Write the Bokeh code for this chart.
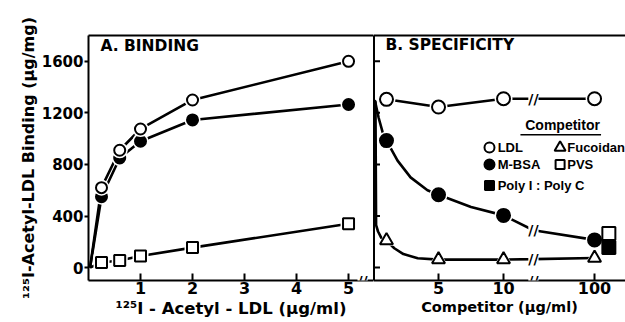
from bokeh.plotting import figure
from bokeh.models import Range1d, FixedTicker, LinearAxis, Label, ColumnDataSource
from bokeh.layouts import row
from bokeh.embed import file_html
from bokeh.resources import INLINE
from bokeh.transform import dodge

FONT = "DejaVu Sans"
LFONT = "Liberation Sans"

# ---------------- Panel A: Binding ----------------
a_x = [0.25, 0.6, 1, 2, 5]
a_ldl = [620, 910, 1075, 1300, 1600]
a_mbsa = [550, 850, 980, 1145, 1265]
a_pvs = [40, 55, 90, 155, 340]
a_ticks = [1, 2, 3, 4, 5]
y_ticks = [0, 400, 800, 1200, 1600]

# ---------------- Panel B: Specificity ----------------
b_x = [1, 5, 10, 100]
b_ldl = [1305, 1245, 1310, 1310]
b_mbsa = [985, 565, 405, 215]
b_fuc = [210, 62, 62, 75]
b_pvs_x = [100]
b_pvs = [265]
b_polyic_x = [100]
b_polyic = [155]
b_ticks = [5, 10, 100]
b_tick_labels = ["5", "10", "100"]

# axis break: values above 10 are drawn at position 17
BREAK_AT = 10
BREAK_POS = 17
BREAK_MARK = 12.3

# curves as drawn in the picture (position along broken axis, value)
b_mbsa_path_x = [0.1, 0.4, 0.7, 1, 1.85, 2.85, 4.15, 5, 7.5, 10, 12.3, 17]
b_mbsa_path_y = [1300, 1160, 1050, 985, 830, 700, 600, 565, 470, 405, 290, 215]
b_fuc_path_x = [0.15, 0.2, 0.35, 0.6, 1, 1.6, 2.3, 3.4, 5, 10, 12.3, 17]
b_fuc_path_y = [1290, 330, 280, 230, 210, 150, 105, 72, 62, 62, 66, 75]
b_ldl_path_x = [1, 5, 10, 17]
b_ldl_path_y = b_ldl


def xb(vals):
    return [v if v <= BREAK_AT else BREAK_POS for v in vals]


BLACK = "black"
yr = Range1d(-100, 1800)


def base_fig(width, xr, left, xlabel, xlabel_size):
    p = figure(width=width, height=322, x_range=xr, y_range=yr,
               output_backend="svg", toolbar_location=None,
               min_border_left=left, min_border_right=0,
               min_border_top=35, min_border_bottom=42,
               x_axis_label=xlabel)
    p.grid.visible = False
    p.outline_line_color = None
    p.background_fill_color = "white"
    p.border_fill_color = "white"
    xa = p.below[0]
    xa.axis_line_width = 2
    xa.axis_line_color = BLACK
    xa.major_tick_in = 7
    xa.major_tick_out = 0
    xa.major_tick_line_width = 2
    xa.major_tick_line_color = BLACK
    xa.minor_tick_line_color = None
    xa.major_label_text_font = FONT
    xa.major_label_text_font_style = "bold"
    xa.major_label_text_font_size = "16px"
    xa.major_label_text_color = BLACK
    xa.major_label_standoff = 1
    xa.axis_label_text_font = FONT
    xa.axis_label_text_font_style = "bold"
    xa.axis_label_text_font_size = xlabel_size
    xa.axis_label_text_color = BLACK
    xa.axis_label_standoff = 2
    top = LinearAxis(ticker=FixedTicker(ticks=[]), axis_line_width=2,
                     major_tick_line_color=None, minor_tick_line_color=None)
    p.add_layout(top, "above")
    return p, xa


def text(p, x, y, t, size, font=FONT, **kw):
    p.add_layout(Label(x=x, y=y, text=t, text_font=font, text_font_style="bold",
                       text_font_size=size, text_color=BLACK, **kw))


def points(p, x, y, marker, filled, size):
    p.scatter(x, y, marker=marker, size=size + 5,
              fill_color="white", line_color=None)
    p.scatter(x, y, marker=marker, size=size,
              fill_color=BLACK if filled else "white",
              line_color=BLACK, line_width=2)


def brk(p, x, y):
    p.add_layout(Label(x=x, y=y, text="//", text_align="center",
                       text_baseline="middle", text_font=FONT,
                       text_font_style="bold", text_font_size="14px",
                       background_fill_color="white", text_color=BLACK))


# ---------- Panel A figure ----------
pa, pa_x = base_fig(373, Range1d(0, 5.48), 88,
                    "\u00b9\u00b2\u2075I - Acetyl - LDL (\u00b5g/ml)", "16.5px")
pa_x.ticker = FixedTicker(ticks=a_ticks)
ya = pa.left[0]
ya.ticker = FixedTicker(ticks=y_ticks)
ya.axis_line_width = 2
ya.axis_line_color = BLACK
ya.major_tick_in = 0
ya.major_tick_out = 4
ya.major_tick_line_width = 2
ya.major_tick_line_color = BLACK
ya.minor_tick_line_color = None
ya.major_label_text_font = FONT
ya.major_label_text_font_style = "bold"
ya.major_label_text_font_size = "15px"
ya.major_label_text_color = BLACK
ya.major_label_standoff = 1
ya.axis_label = "\u00b9\u00b2\u2075I-Acetyl-LDL Binding (\u00b5g/mg)"
ya.axis_label_text_font = FONT
ya.axis_label_text_font_style = "bold"
ya.axis_label_text_font_size = "16px"
ya.axis_label_text_color = BLACK
ya.axis_label_standoff = 1

for ys in (a_ldl, a_mbsa, a_pvs):
    pa.line([0.03] + a_x, [0] + ys, line_color=BLACK, line_width=2.6)
points(pa, a_x, a_pvs, "square", False, 11)
points(pa, a_x, a_mbsa, "circle", True, 11)
points(pa, a_x, a_ldl, "circle", False, 11)
text(pa, 0.23, 1645, "A. BINDING", "15.5px")
brk(pa, 5.27, -100)

# ---------- Panel B figure ----------
pb, pb_x = base_fig(252, Range1d(0, 19.38), 0, "Competitor (\u00b5g/ml)", "14.5px")
pb_x.ticker = FixedTicker(ticks=xb(b_ticks))
pb_x.major_label_overrides = {pos: lab for pos, lab in zip(xb(b_ticks), b_tick_labels)}
yb = pb.left[0]
yb.ticker = FixedTicker(ticks=[])
yb.axis_line_width = 3
yb.axis_line_color = BLACK
yb.major_tick_line_color = None
yb.minor_tick_line_color = None
# inward ticks of the divider axis
pb.segment(x0=[0] * len(y_ticks), y0=y_ticks, x1=[0.5] * len(y_ticks), y1=y_ticks,
           line_color=BLACK, line_width=2)

pb.line(b_ldl_path_x, b_ldl_path_y, line_color=BLACK, line_width=2.6)
pb.line(b_mbsa_path_x, b_mbsa_path_y, line_color=BLACK, line_width=2.6)
pb.line(b_fuc_path_x, b_fuc_path_y, line_color=BLACK, line_width=2.6)

bx = xb(b_x)
points(pb, bx, b_fuc, "triangle", False, 13)
points(pb, bx, b_mbsa, "circle", True, 13)
points(pb, bx, b_ldl, "circle", False, 13)
pvs_src = ColumnDataSource(dict(x=xb(b_pvs_x), y=b_pvs))
pic_src = ColumnDataSource(dict(x=xb(b_polyic_x), y=b_polyic))
pb.scatter(x=dodge("x", 1.1, range=pb.x_range), y="y", source=pic_src,
           marker="square", size=13, fill_color=BLACK, line_color=BLACK, line_width=2)
pb.scatter(x=dodge("x", 1.1, range=pb.x_range), y="y", source=pvs_src,
           marker="square", size=13, fill_color="white", line_color=BLACK, line_width=2)

for yv in (-100, 1310, 290, 66):
    brk(pb, BREAK_MARK, yv)

text(pb, 0.92, 1655, "B. SPECIFICITY", "15.5px")

# legend (hand-built, in panel B data space)
LX1, LT1, LX2, LT2 = 8.92, 9.55, 14.35, 14.9
R1, R2, R3 = 931, 799, 636
text(pb, 14.54, 1047, "Competitor", "14px", font=LFONT, text_align="center")
pb.segment(x0=[11.3], y0=[1030], x1=[17.5], y1=[1030], line_color=BLACK, line_width=1.5)
pb.scatter([LX1], [R1], marker="circle", size=10, fill_color="white", line_color=BLACK, line_width=2)
pb.scatter([LX1], [R2], marker="circle", size=10, fill_color=BLACK, line_color=BLACK, line_width=2)
pb.scatter([LX1], [R3], marker="square", size=9, fill_color=BLACK, line_color=BLACK, line_width=2)
pb.scatter([LX2], [R1], marker="triangle", size=11, fill_color="white", line_color=BLACK, line_width=2)
pb.scatter([LX2], [R2], marker="square", size=9, fill_color="white", line_color=BLACK, line_width=2)
for x, y, t in ((LT1, R1, "LDL"), (LT1, R2, "M-BSA"), (LT1, R3, "Poly I : Poly C"),
                (LT2, R1, "Fucoidan"), (LT2, R2, "PVS")):
    text(pb, x, y, t, "13px", font=LFONT, text_baseline="middle")

layout = row(pa, pb)
open("out.html", "w").write(file_html(layout, INLINE))
